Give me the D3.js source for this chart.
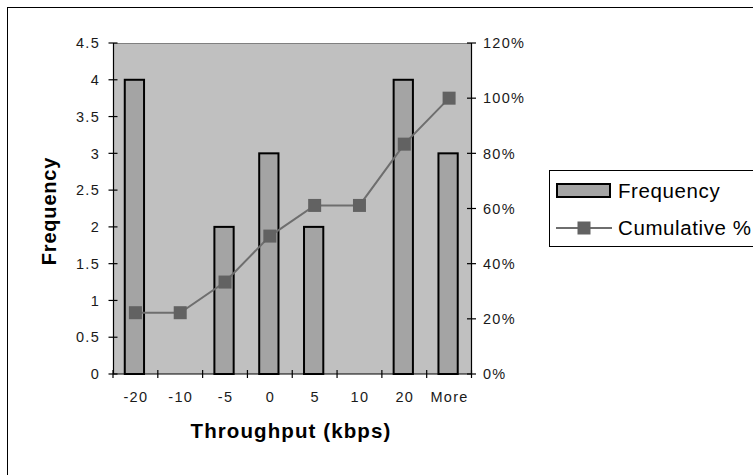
<!DOCTYPE html>
<html>
<head>
<meta charset="utf-8">
<script src="https://cdn.jsdelivr.net/npm/d3@7/dist/d3.min.js"></script>
<style>
  html, body { margin: 0; padding: 0; background: #fff; }
  svg { display: block; font-family: "Liberation Sans", Arial, sans-serif; }
</style>
</head>
<body>
<svg id="chart" width="753" height="475"></svg>
<script>
// Histogram of throughput change with cumulative percentage
const categories = ["-20", "-10", "-5", "0", "5", "10", "20", "More"];
const frequency = [4, 0, 2, 3, 2, 0, 4, 3];
const cumulative = [0.2222, 0.2222, 0.3333, 0.5, 0.6111, 0.6111, 0.8333, 1.0];
const leftTicks = [0, 0.5, 1, 1.5, 2, 2.5, 3, 3.5, 4, 4.5];
const rightTicks = [0, 0.2, 0.4, 0.6, 0.8, 1.0, 1.2];

const svg = d3.select("#chart");
const plot = { left: 113, top: 43, right: 471.5, bottom: 374 };

// outer chart frame (extends past the right and bottom edges)
svg.append("rect")
  .attr("x", 7.5).attr("y", 7.5)
  .attr("width", 800).attr("height", 500)
  .attr("fill", "#fff").attr("stroke", "#000").attr("stroke-width", 1);

const x = d3.scaleBand()
  .domain(categories)
  .range([plot.left, plot.right])
  .paddingInner(0.57)
  .paddingOuter(0.285);
const step = x.step();
const xStart = plot.left;

const y = d3.scaleLinear().domain([0, 4.5]).range([plot.bottom, plot.top]);
const y2 = d3.scaleLinear().domain([0, 1.2]).range([plot.bottom, plot.top]);

// plot background
svg.append("rect")
  .attr("x", plot.left).attr("y", plot.top)
  .attr("width", plot.right - plot.left).attr("height", plot.bottom - plot.top)
  .attr("fill", "#c0c0c0");
svg.append("line")
  .attr("x1", plot.left).attr("x2", plot.right)
  .attr("y1", plot.top + 0.5).attr("y2", plot.top + 0.5)
  .attr("stroke", "#808080").attr("stroke-width", 1);

// bars
svg.append("g").selectAll("rect")
  .data(categories)
  .join("rect")
  .attr("x", (d) => x(d) - 1)
  .attr("y", (d, i) => y(frequency[i]))
  .attr("width", x.bandwidth())
  .attr("height", (d, i) => y(0) - y(frequency[i]))
  .attr("fill", "#a4a4a4")
  .attr("stroke", "#000")
  .attr("stroke-width", 2)
  .style("display", (d, i) => frequency[i] > 0 ? null : "none");

// cumulative line
const cx = (d) => x(d) + x.bandwidth() / 2;
svg.append("path")
  .datum(categories)
  .attr("fill", "none")
  .attr("stroke", "#6e6e6e")
  .attr("stroke-width", 2)
  .attr("d", d3.line().x(cx).y((d, i) => y2(cumulative[i]))(categories));

const ms = 13;
svg.append("g").selectAll("rect")
  .data(categories)
  .join("rect")
  .attr("x", (d) => cx(d) - ms / 2)
  .attr("y", (d, i) => y2(cumulative[i]) - ms / 2)
  .attr("width", ms).attr("height", ms)
  .attr("fill", "#626262");

// axes lines
const axisColor = "#000";
svg.append("line")
  .attr("x1", plot.left + 0.5).attr("x2", plot.left + 0.5)
  .attr("y1", plot.top).attr("y2", plot.bottom)
  .attr("stroke", axisColor).attr("stroke-width", 1.2);
svg.append("line")
  .attr("x1", plot.right).attr("x2", plot.right)
  .attr("y1", plot.top).attr("y2", plot.bottom)
  .attr("stroke", axisColor).attr("stroke-width", 1.2);
svg.append("line")
  .attr("x1", plot.left).attr("x2", plot.right)
  .attr("y1", plot.bottom).attr("y2", plot.bottom)
  .attr("stroke", axisColor).attr("stroke-width", 1.2);

const tickFont = { size: "14.5px", spacing: "1.3px", color: "#1a1a1a" };

// left axis ticks and labels
const gl = svg.append("g");
gl.selectAll("line").data(leftTicks).join("line")
  .attr("x1", plot.left - 4.5).attr("x2", plot.left + 4.5)
  .attr("y1", (d) => y(d)).attr("y2", (d) => y(d))
  .attr("stroke", axisColor).attr("stroke-width", 1.2);
gl.selectAll("text").data(leftTicks).join("text")
  .attr("x", 100).attr("y", (d) => y(d)).attr("dy", "0.36em")
  .attr("text-anchor", "end")
  .style("font-size", tickFont.size).style("letter-spacing", tickFont.spacing)
  .attr("fill", tickFont.color)
  .text((d) => d3.format("")(d));

// right axis ticks and labels
const gr = svg.append("g");
gr.selectAll("line").data(rightTicks).join("line")
  .attr("x1", plot.right - 4.5).attr("x2", plot.right + 4.5)
  .attr("y1", (d) => y2(d)).attr("y2", (d) => y2(d))
  .attr("stroke", axisColor).attr("stroke-width", 1.2);
gr.selectAll("text").data(rightTicks).join("text")
  .attr("x", 483).attr("y", (d) => y2(d)).attr("dy", "0.36em")
  .attr("text-anchor", "start")
  .style("font-size", tickFont.size).style("letter-spacing", tickFont.spacing)
  .attr("fill", tickFont.color)
  .text((d) => d3.format(".0%")(d));

// category ticks at band boundaries
const bounds = d3.range(categories.length + 1).map((i) => xStart + i * step);
svg.append("g").selectAll("line").data(bounds).join("line")
  .attr("x1", (d) => d).attr("x2", (d) => d)
  .attr("y1", plot.bottom - 4).attr("y2", plot.bottom + 4)
  .attr("stroke", axisColor).attr("stroke-width", 1.2);
svg.append("g").selectAll("text").data(categories).join("text")
  .attr("x", (d) => cx(d) + 0.5).attr("y", 401.5)
  .attr("text-anchor", "middle")
  .style("font-size", tickFont.size).style("letter-spacing", tickFont.spacing)
  .attr("fill", tickFont.color)
  .text((d) => d);

// axis titles
svg.append("text")
  .attr("x", 291).attr("y", 438)
  .attr("text-anchor", "middle")
  .style("font-size", "20.5px").style("font-weight", "bold").style("letter-spacing", "1.1px")
  .attr("fill", "#000")
  .text("Throughput (kbps)");
svg.append("text")
  .attr("transform", "translate(56,211) rotate(-90)")
  .attr("text-anchor", "middle")
  .style("font-size", "20px").style("font-weight", "bold").style("letter-spacing", "0.8px")
  .attr("fill", "#000")
  .text("Frequency");

// legend
const lg = svg.append("g");
lg.append("rect")
  .attr("x", 549.5).attr("y", 170.5).attr("width", 260).attr("height", 76)
  .attr("fill", "#fff").attr("stroke", "#000").attr("stroke-width", 1);
lg.append("rect")
  .attr("x", 557).attr("y", 184).attr("width", 53).attr("height", 13)
  .attr("fill", "#a4a4a4").attr("stroke", "#000").attr("stroke-width", 2);
lg.append("text")
  .attr("x", 618).attr("y", 197.5)
  .style("font-size", "20.5px").style("letter-spacing", "0.6px")
  .attr("fill", "#000").text("Frequency");
lg.append("line")
  .attr("x1", 556).attr("x2", 612).attr("y1", 228).attr("y2", 228)
  .attr("stroke", "#6e6e6e").attr("stroke-width", 2);
lg.append("rect")
  .attr("x", 584 - 6.5).attr("y", 228 - 6.5).attr("width", 13).attr("height", 13)
  .attr("fill", "#626262");
lg.append("text")
  .attr("x", 618).attr("y", 235)
  .style("font-size", "20.5px").style("letter-spacing", "0.6px")
  .attr("fill", "#000").text("Cumulative %");
</script>
</body>
</html>
